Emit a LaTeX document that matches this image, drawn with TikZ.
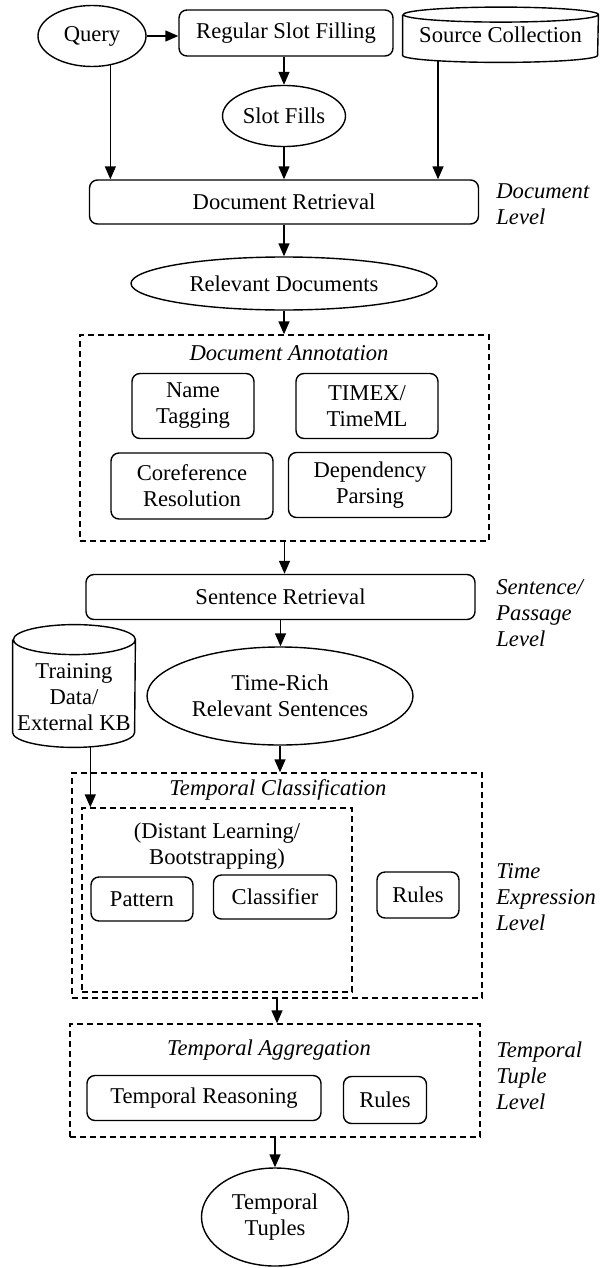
\documentclass[tikz,border=0pt]{standalone}
\usepackage{fontspec}
\setmainfont{Liberation Serif}
\usetikzlibrary{shapes.geometric,arrows.meta}
\begin{document}
\begin{tikzpicture}[x=0.5pt, y=-0.5pt,
  every node/.style={font=\fontsize{11.3}{13}\selectfont, align=center, inner sep=0pt},
  proc/.style={rectangle, rounded corners=4pt, draw=black, line width=0.7pt},
  data/.style={ellipse, draw=black, line width=0.7pt},
  group/.style={rectangle, draw=black, line width=0.7pt, dash pattern=on 3.2pt off 1.8pt},
  title/.style={font=\fontsize{11.3}{13}\selectfont\itshape},
  lvl/.style={font=\fontsize{11.3}{13}\selectfont\itshape, align=left, anchor=west},
  arr/.style={-{Triangle[length=6.5pt,width=5.5pt]}, line width=0.7pt}
]
\useasboundingbox (0,0) rectangle (600,1268);

% Document level
\node[data, minimum width=54pt, minimum height=30.5pt] (q) at (92,36) {Query};
\node[proc, minimum width=107pt, minimum height=23pt] (rsf) at (286,33) {Regular Slot Filling};
\node[minimum width=97.5pt, minimum height=20pt] (src) at (500.5,35) {Source Collection};
\draw[line width=0.7pt] (src.north west) -- (src.south west)
  arc[start angle=180, end angle=360, x radius=48.75pt, y radius=3.5pt] -- (src.north east)
  arc[start angle=0, end angle=360, x radius=48.75pt, y radius=3.75pt];
\node[data, minimum width=61.5pt, minimum height=30.5pt] (sf) at (284,116) {Slot Fills};
\node[proc, minimum width=194.5pt, minimum height=22pt] (dr) at (284,202) {Document Retrieval};
\node[data, minimum width=153pt, minimum height=26.5pt] (rd) at (284,283.5) {Relevant Documents};

% Document annotation
\node[group, minimum width=204.5pt, minimum height=103pt] (da) at (284.5,438) {};
\node[title] (dat) at (289,353) {Document Annotation};
\node[proc, minimum width=61pt, minimum height=32.5pt] (nt) at (193,406) {Name\\Tagging};
\node[proc, minimum width=71pt, minimum height=32.5pt] (tx) at (367,406) {TIMEX/\\TimeML};
\node[proc, minimum width=81pt, minimum height=33pt] (cr) at (192,486) {Coreference\\Resolution};
\node[proc, minimum width=81.5pt, minimum height=32.5pt] (dp) at (370,485) {Dependency\\Parsing};

% Sentence/passage level
\node[proc, minimum width=194.5pt, minimum height=22.5pt] (sr) at (280.5,597) {Sentence Retrieval};
\node[data, minimum width=133pt, minimum height=49pt] (tr) at (280,696) {Time-Rich\\Relevant Sentences};
\node[minimum width=61pt, minimum height=35pt] (trn) at (74,697) {Training\\Data/\\External KB};
\draw[line width=0.7pt] ([yshift=11pt]trn.north west) -- (trn.south west)
  arc[start angle=180, end angle=360, x radius=30.5pt, y radius=7.5pt] -- ([yshift=11pt]trn.north east)
  arc[start angle=0, end angle=360, x radius=30.5pt, y radius=7.5pt];

% Temporal classification
\node[group, minimum width=205pt, minimum height=112.5pt] (tc) at (277,885.5) {};
\node[title] (tct) at (278,790) {Temporal Classification};
\node[group, minimum width=135pt, minimum height=92pt] (lrn) at (217,900) {};
\node (lrnt) at (217,846) {(Distant Learning/\\Bootstrapping)};
\node[proc, minimum width=51pt, minimum height=22pt] (pat) at (142,899) {Pattern};
\node[proc, minimum width=61.5pt, minimum height=22pt] (cls) at (275,897) {Classifier};
\node[proc, minimum width=41pt, minimum height=23pt] (ru1) at (418,895) {Rules};

% Temporal aggregation
\node[group, minimum width=205pt, minimum height=56.5pt] (ta) at (275,1080.5) {};
\node[title] (tat) at (269,1050) {Temporal Aggregation};
\node[proc, minimum width=117pt, minimum height=22.5pt] (rea) at (204,1098) {Temporal Reasoning};
\node[proc, minimum width=41.5pt, minimum height=23.5pt] (ru2) at (385,1100) {Rules};
\node[data, minimum width=73.5pt, minimum height=49pt] (tt) at (275,1217) {Temporal\\Tuples};

% Levels
\node[lvl] (lv1) at (496,204.5) {Document\\Level};
\node[lvl] (lv2) at (496,613) {Sentence/\\Passage\\Level};
\node[lvl] (lv3) at (496,897) {Time\\Expression\\Level};
\node[lvl] (lv4) at (496,1076) {Temporal\\Tuple\\Level};

% Connections
\draw[arr] (q.east) -- (q.east -| rsf.west);
\draw[arr] (rsf.south -| sf.north) -- (sf.north);
\draw[arr] (q.-58) -- (q.-58 |- dr.north);
\draw[arr] (sf.south) -- (sf.south |- dr.north);
\draw[arr] ([xshift=-31.25pt,yshift=-2.7pt]src.south) -- ([xshift=-31.25pt]src.south |- dr.north);
\draw[arr] (dr.south) -- (rd.north);
\draw[arr] (rd.south) -- (rd.south |- da.north);
\draw[arr] (da.south) -- (da.south |- sr.north);
\draw[arr] (sr.south) -- (sr.south |- tr.north);
\draw[arr] (tr.south) -- (tr.south |- tc.north);
\draw[arr] ([yshift=-7.2pt]trn.south -| pat.west) -- (pat.west |- lrn.north);
\draw[arr] (tc.south) -- (tc.south |- ta.north);
\draw[arr] (ta.south) -- (ta.south |- tt.north);
\end{tikzpicture}
\end{document}
